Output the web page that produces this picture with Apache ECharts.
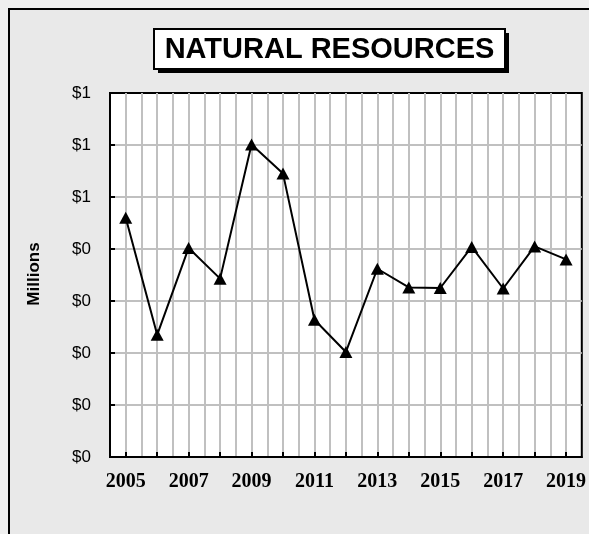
<!DOCTYPE html>
<html>
<head>
<meta charset="utf-8">
<script src="https://cdn.jsdelivr.net/npm/echarts@6/dist/echarts.min.js"></script>
<style>
html,body{margin:0;padding:0;background:#efefef;}
#c{width:589px;height:534px;}
</style>
</head>
<body>
<div id="c"></div>
<script>
var years = ['2005','2006','2007','2008','2009','2010','2011','2012','2013','2014','2015','2016','2017','2018','2019'];
var values = [0.46, 0.235, 0.402, 0.343, 0.601, 0.545, 0.264, 0.202, 0.362, 0.326, 0.325, 0.404, 0.324, 0.405, 0.38];
var titleText = 'NATURAL RESOURCES';
var yAxisName = 'Millions';

var chart = echarts.init(document.getElementById('c'), null, {renderer:'canvas'});
chart.setOption({
  animation: false,
  backgroundColor: '#efefef',
  graphic: [
    {type:'rect', z:-10, shape:{x:9,y:9,width:640,height:600}, style:{fill:'#e9e9e9', stroke:'#000', lineWidth:2}},
    {type:'rect', z:10, shape:{x:158,y:33,width:351,height:40}, style:{fill:'#000'}},
    {type:'rect', z:11, shape:{x:154,y:29,width:351,height:40}, style:{fill:'#fff', stroke:'#000', lineWidth:2}},
    {type:'text', z:12, x:329.5, y:50, style:{text:titleText, fill:'#000', font:'bold 29px "Liberation Sans", Arial, sans-serif', textAlign:'center', textVerticalAlign:'middle'}},
    {type:'text', z:12, x:34, y:274, rotation:Math.PI/2, style:{text:yAxisName, fill:'#000', font:'bold 17px "Liberation Sans", Arial, sans-serif', textAlign:'center', textVerticalAlign:'middle'}}
  ],
  grid: {left:110, top:93, right:5, bottom:77, show:true, backgroundColor:'#fff', borderColor:'#000', borderWidth:2},
  xAxis: [
    {
      type:'category', data:years, boundaryGap:true,
      axisLine:{show:true, lineStyle:{color:'#000', width:2}},
      axisTick:{show:true, inside:true, length:5, alignWithLabel:true, interval:0, lineStyle:{color:'#000', width:2}},
      axisLabel:{interval:1, margin:15, color:'#000', fontFamily:'"Liberation Serif", "Times New Roman", serif', fontWeight:'bold', fontSize:20},
      splitLine:{show:false}
    },
    {
      type:'value', min:0, max:30, interval:1, position:'top',
      axisLine:{show:false}, axisTick:{show:false}, axisLabel:{show:false},
      splitLine:{show:true, showMinLine:false, showMaxLine:false, lineStyle:{color:'#c0c0c0', width:2}}
    }
  ],
  yAxis: {
    type:'value', min:0, max:0.7, interval:0.1,
    axisLine:{show:true, lineStyle:{color:'#000', width:2}},
    axisTick:{show:true, inside:true, length:5, lineStyle:{color:'#000', width:2}},
    axisLabel:{margin:19, color:'#000', fontFamily:'"Liberation Sans", Arial, sans-serif', fontSize:17,
      formatter:function(v){ return '$' + Math.round(v); }},
    splitLine:{show:true, showMinLine:false, showMaxLine:false, lineStyle:{color:'#c0c0c0', width:2}}
  },
  series: [{
    type:'line', xAxisIndex:0, data:values,
    lineStyle:{color:'#000', width:2},
    itemStyle:{color:'#000'},
    symbol:'triangle', symbolSize:[13,12], showAllSymbol:true,
    z:5
  }]
});
</script>
</body>
</html>
